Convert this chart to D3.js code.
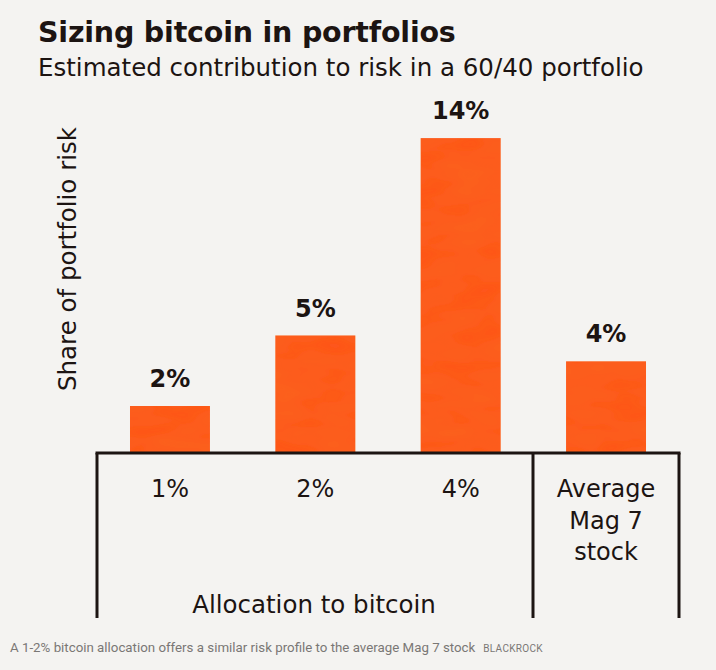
<!DOCTYPE html>
<html lang="en">
<head>
    <meta charset="UTF-8">
    <script type="text/javascript" src="https://d3js.org/d3.v7.min.js"></script>
    <title>Sizing bitcoin in portfolios</title>
    <style>
        body { margin: 0; background: #f4f3f1; }
    </style>
</head>
<body>
    <svg id="chart"></svg>
    <script>
        const width = 716;
        const height = 670;

        // data
        const categories = ["1%", "2%", "4%", "Average Mag 7 stock"];
        const riskShare = [2, 5, 13.4, 3.9];
        const valueLabels = ["2%", "5%", "14%", "4%"];
        const categoryLines = [["1%"], ["2%"], ["4%"], ["Average", "Mag 7", "stock"]];

        const ink = "#1c1412";
        const barColor = "#fe561e";
        const chartFont = "'DejaVu Sans', sans-serif";
        const footFont = "Roboto, sans-serif";
        const base = 453;

        const svg = d3.select("#chart").attr("width", width).attr("height", height);

        svg.append("rect").attr("width", width).attr("height", height).attr("fill", "#f4f3f1");

        // soft paper-ish texture for the bars
        const defs = svg.append("defs");
        const filt = defs.append("filter").attr("id", "grain");
        filt.append("feTurbulence").attr("type", "fractalNoise").attr("baseFrequency", "0.02 0.05")
            .attr("numOctaves", 2).attr("seed", 4).attr("result", "noise");
        filt.append("feColorMatrix").attr("in", "noise").attr("type", "matrix")
            .attr("values", "0 0 0 0 0.9  0 0 0 0 0.2  0 0 0 0 0.02  0 0 0 0.35 -0.05").attr("result", "tint");
        filt.append("feComposite").attr("in", "tint").attr("in2", "SourceGraphic").attr("operator", "in").attr("result", "t2");
        filt.append("feMerge").call(m => {
            m.append("feMergeNode").attr("in", "SourceGraphic");
            m.append("feMergeNode").attr("in", "t2");
        });

        const x = d3.scaleBand()
            .domain(categories)
            .range([97, 679])
            .paddingInner(0.45)
            .paddingOuter(0.227);

        const y = d3.scaleLinear()
            .domain([0, 14])
            .range([base, base - 14 * 23.5]);

        // titles
        svg.append("text").attr("x", 38).attr("y", 42)
            .attr("font-family", chartFont).attr("font-weight", 700).attr("font-size", 28.5)
            .attr("fill", ink).attr("letter-spacing", -0.2)
            .text("Sizing bitcoin in portfolios");
        svg.append("text").attr("x", 38).attr("y", 76)
            .attr("font-family", chartFont).attr("font-size", 24.5)
            .attr("fill", ink)
            .text("Estimated contribution to risk in a 60/40 portfolio");

        // bars
        const data = categories.map((c, i) => ({cat: c, v: riskShare[i], label: valueLabels[i]}));
        svg.append("g").selectAll("rect").data(data).join("rect")
            .attr("x", d => x(d.cat))
            .attr("y", d => y(d.v))
            .attr("width", x.bandwidth())
            .attr("height", d => y(0) - y(d.v))
            .attr("fill", barColor)
            .attr("filter", "url(#grain)");

        svg.append("g").selectAll("text").data(data).join("text")
            .attr("x", d => x(d.cat) + x.bandwidth() / 2)
            .attr("y", d => y(d.v) - 19)
            .attr("text-anchor", "middle")
            .attr("font-family", chartFont).attr("font-weight", 700).attr("font-size", 24)
            .attr("fill", ink)
            .text(d => d.label);

        // category axis
        const xaxis = d3.axisBottom(x).tickSize(0).tickPadding(0);
        const gx = svg.append("g").attr("transform", `translate(0, ${base})`).call(xaxis);
        gx.select(".domain").remove();
        gx.selectAll(".tick text").each(function(d, i) {
            const t = d3.select(this).text(null)
                .attr("font-family", chartFont).attr("font-size", 24)
                .attr("fill", ink).attr("dy", null).attr("y", 44);
            categoryLines[i].forEach((line, j) => {
                t.append("tspan").attr("x", 0).attr("dy", j === 0 ? 0 : 31.5).text(line);
            });
        });

        // frame lines
        const frame = svg.append("g").attr("stroke", ink).attr("stroke-width", 3).attr("fill", "none");
        frame.append("line").attr("x1", 95.5).attr("x2", 680.5).attr("y1", base).attr("y2", base);
        [97, 533, 679].forEach(px => {
            frame.append("line").attr("x1", px).attr("x2", px).attr("y1", base).attr("y2", 618);
        });

        // axis titles
        svg.append("text")
            .attr("transform", `translate(76, 259) rotate(-90)`)
            .attr("text-anchor", "middle")
            .attr("font-family", chartFont).attr("font-size", 24.5)
            .attr("fill", ink)
            .text("Share of portfolio risk");
        svg.append("text").attr("x", 314).attr("y", 613)
            .attr("text-anchor", "middle")
            .attr("font-family", chartFont).attr("font-size", 24.5)
            .attr("fill", ink)
            .text("Allocation to bitcoin");

        // footer
        const foot = svg.append("text").attr("x", 10).attr("y", 652)
            .attr("font-family", footFont).attr("font-size", 13.3).attr("fill", "#7a7775");
        foot.append("tspan").text("A 1-2% bitcoin allocation offers a similar risk profile to the average Mag 7 stock");
        foot.append("tspan").attr("dx", 8).attr("font-size", 10).attr("letter-spacing", 0.3).text("BLACKROCK");
    </script>
</body>
</html>
